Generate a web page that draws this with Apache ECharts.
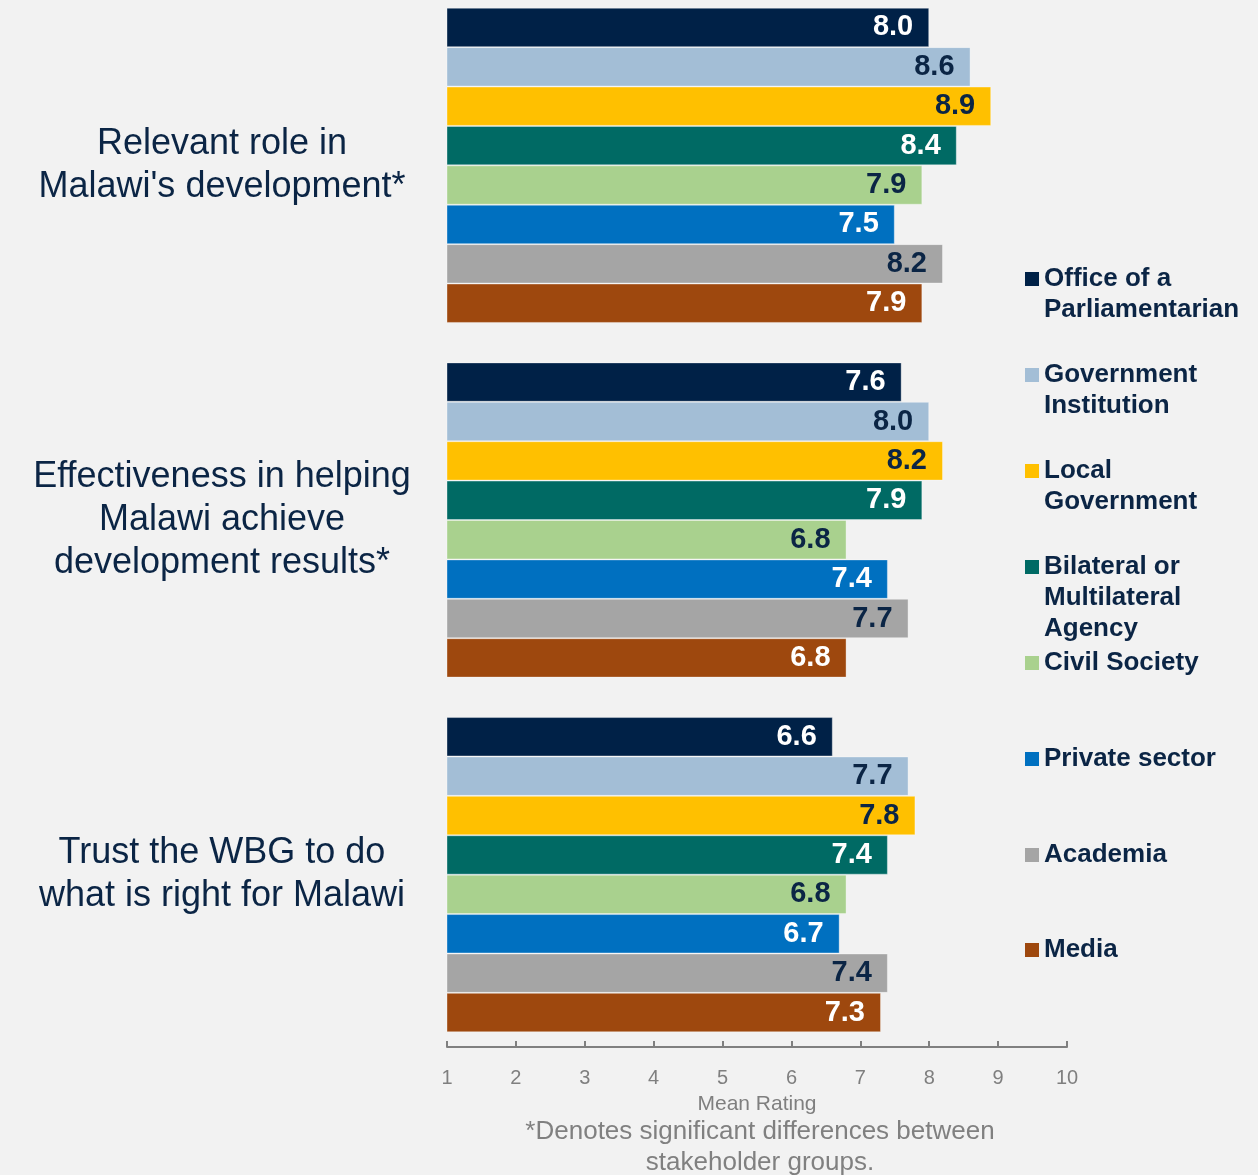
<!DOCTYPE html>
<html>
<head>
<meta charset="utf-8">
<script src="https://cdn.jsdelivr.net/npm/echarts@6/dist/echarts.min.js"></script>
<style>
  html, body { margin: 0; padding: 0; background: #f2f2f2; }
  #chart { width: 1258px; height: 1175px; }
</style>
</head>
<body>
<div id="chart"></div>
<script>
// Survey questions (rows, top to bottom)
const questions = [
  "Relevant role in\nMalawi's development*",
  "Effectiveness in helping\nMalawi achieve\ndevelopment results*",
  "Trust the WBG to do\nwhat is right for Malawi"
];

// Stakeholder groups, legend text and bar colours
const groups = [
  "Office of a Parliamentarian",
  "Government Institution",
  "Local Government",
  "Bilateral or Multilateral Agency",
  "Civil Society",
  "Private sector",
  "Academia",
  "Media"
];
const legendText = [
  "Office of a\nParliamentarian",
  "Government\nInstitution",
  "Local\nGovernment",
  "Bilateral or\nMultilateral\nAgency",
  "Civil Society",
  "Private sector",
  "Academia",
  "Media"
];
const colors = ["#002147", "#a3bed6", "#ffc000", "#006a64", "#a9d18e", "#0070c0", "#a5a5a5", "#9e480e"];
const labelColors = ["#ffffff", "#0b2545", "#0b2545", "#ffffff", "#0b2545", "#ffffff", "#0b2545", "#ffffff"];

// Mean rating per group, one value per question
const officeParl   = [8.0, 7.6, 6.6];
const govInst      = [8.6, 8.0, 7.7];
const localGov     = [8.9, 8.2, 7.8];
const bilateral    = [8.4, 7.9, 7.4];
const civilSociety = [7.9, 6.8, 6.8];
const privateSect  = [7.5, 7.4, 6.7];
const academia     = [8.2, 7.7, 7.4];
const media        = [7.9, 6.8, 7.3];
const values = [officeParl, govInst, localGov, bilateral, civilSociety, privateSect, academia, media];

// Rating scale ticks
const xTicks = [1, 2, 3, 4, 5, 6, 7, 8, 9, 10];

const navy = "#0b2545";
const font = "Liberation Sans, Arial, sans-serif";

// Legend: one block per group; leading blank lines keep the icon level
// with the first line of a wrapped name
const legendCenters = [277, 373, 469, 565, 661, 757, 853, 948];
const lineH = 31;
const legends = groups.map((g, i) => {
  const lines = legendText[i].split("\n").length;
  const total = 2 * lines - 1;
  const text = " \n".repeat(lines - 1) + legendText[i];
  return {
    show: true,
    data: [g],
    left: 1025,
    top: legendCenters[i] - total * lineH / 2 + 2,
    padding: 0,
    icon: "rect",
    itemWidth: 14,
    itemHeight: 14,
    itemGap: 6,
    itemStyle: { borderWidth: 0 },
    selectedMode: false,
    formatter: () => text,
    textStyle: {
      color: navy,
      fontFamily: font,
      fontWeight: "bold",
      fontSize: 26,
      lineHeight: lineH
    }
  };
});

const chart = echarts.init(document.getElementById("chart"), null, { renderer: "canvas" });
chart.setOption({
  backgroundColor: "#f2f2f2",
  animation: false,
  legend: legends,
  grid: {
    left: 447, width: 620, top: -12, height: 1064,
    containLabel: false,
    outerBoundsMode: "none"
  },
  xAxis: {
    type: "value",
    min: 1,
    max: 10,
    interval: 1,
    offset: -5,
    name: "Mean Rating",
    nameLocation: "middle",
    nameGap: 47,
    nameTextStyle: { color: "#7f7f7f", fontSize: 21, fontFamily: font },
    axisLine: { show: true, lineStyle: { color: "#808080", width: 2 } },
    axisTick: { show: true, inside: true, length: 6, lineStyle: { color: "#808080", width: 2 } },
    splitLine: { show: false },
    axisLabel: {
      color: "#7f7f7f",
      fontSize: 20,
      fontFamily: font,
      margin: 21,
      formatter: v => xTicks.includes(v) ? String(v) : ""
    }
  },
  yAxis: {
    type: "category",
    inverse: true,
    data: questions,
    axisLine: { show: false },
    axisTick: { show: false },
    axisLabel: {
      color: navy,
      fontSize: 36,
      fontFamily: font,
      lineHeight: 43,
      align: "center",
      margin: 225
    }
  },
  series: groups.map((g, i) => ({
    name: g,
    type: "bar",
    data: values[i],
    barWidth: 39.4,
    barGap: "0%",
    itemStyle: { color: colors[i], borderColor: "rgba(255,255,255,0.35)", borderWidth: 1 },
    label: {
      show: true,
      position: "insideRight",
      distance: 16,
      color: labelColors[i],
      fontFamily: font,
      fontWeight: "bold",
      fontSize: 29,
      formatter: p => p.value.toFixed(1)
    }
  })),
  graphic: [{
    type: "text",
    x: 760,
    y: 1116,
    style: {
      text: "*Denotes significant differences between\nstakeholder groups.",
      fill: "#808080",
      font: "26px " + font,
      lineHeight: 31,
      align: "center",
      verticalAlign: "top"
    }
  }]
});
</script>
</body>
</html>
